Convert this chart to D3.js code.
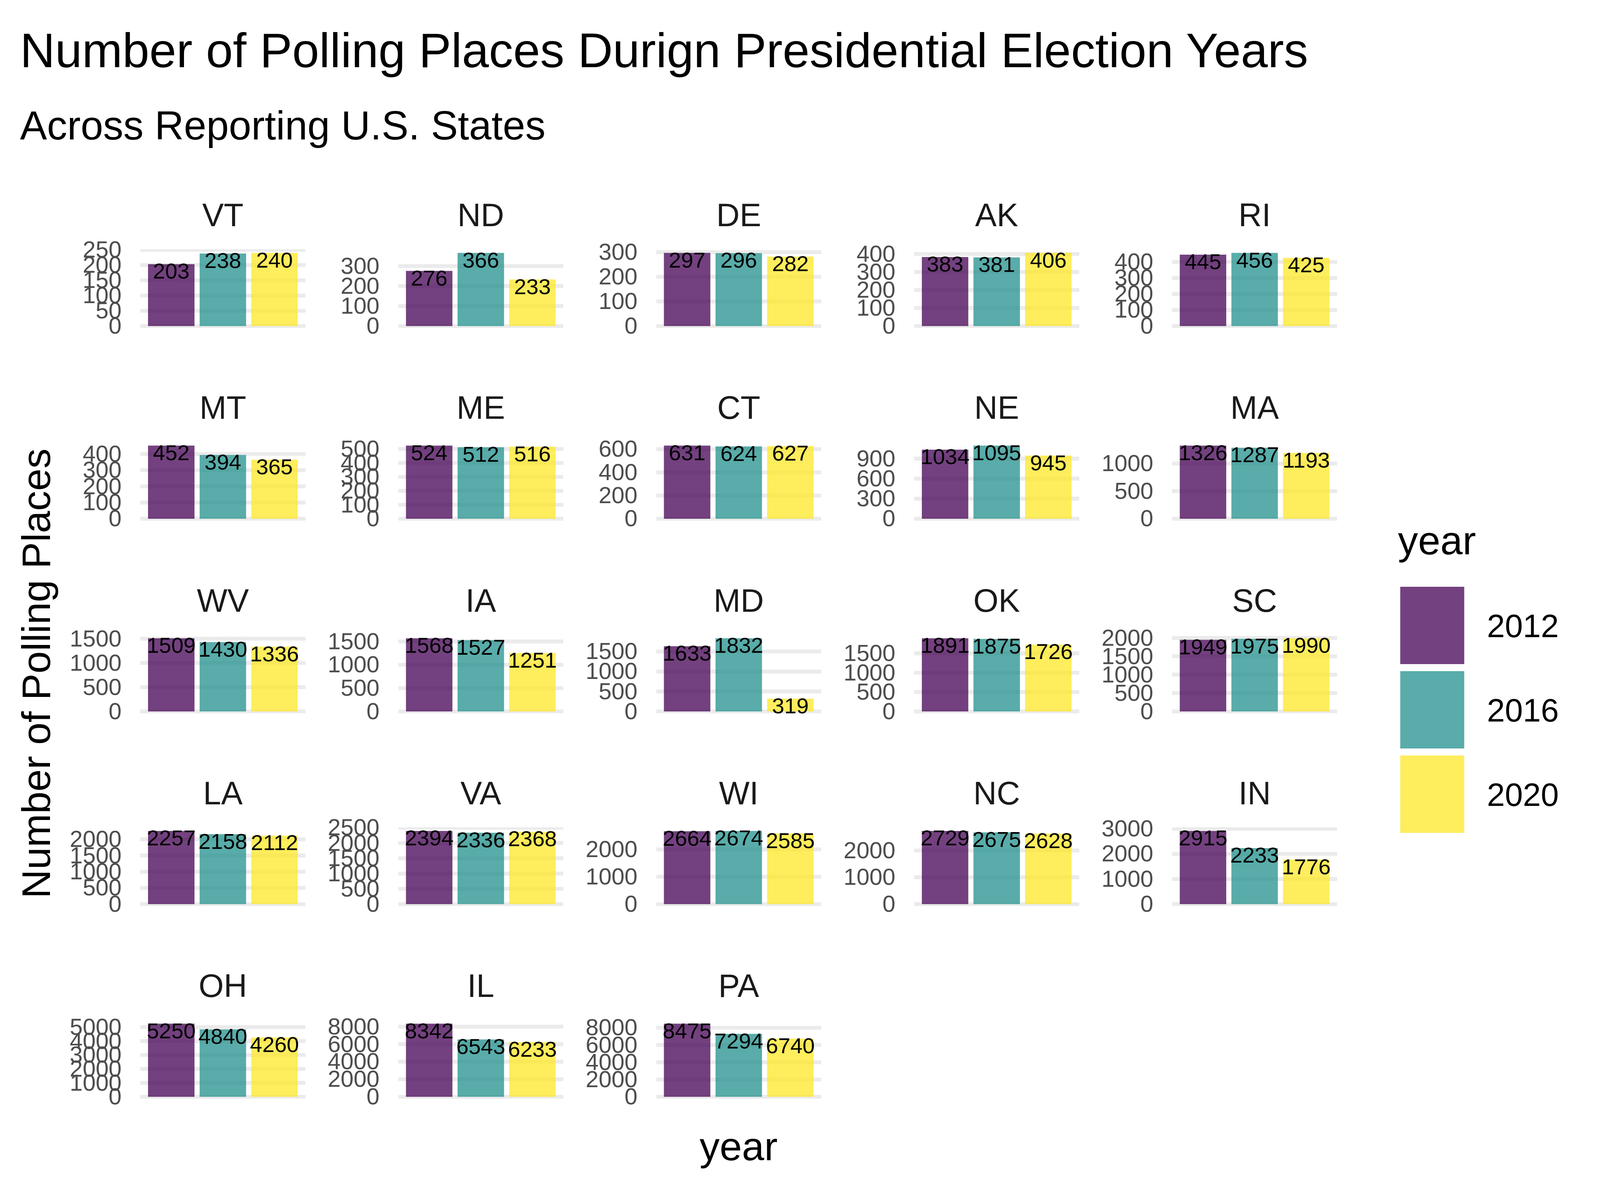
<!DOCTYPE html>
<html>
<head>
<meta charset="utf-8">
<title>Number of Polling Places</title>
<script src="https://cdn.jsdelivr.net/npm/d3@7"></script>
<style>
  html, body { margin: 0; padding: 0; background: #fff; overflow: hidden; }
  svg { display: block; }
  text { font-family: "Liberation Sans", Arial, sans-serif; }
</style>
</head>
<body>
<svg id="chart"></svg>
<script>
// --- Data ---
const years = ["2012", "2016", "2020"];
const states = ["VT", "ND", "DE", "AK", "RI", "MT", "ME", "CT", "NE", "MA", "WV", "IA", "MD", "OK", "SC", "LA", "VA", "WI", "NC", "IN", "OH", "IL", "PA"];
const places2012 = [203, 276, 297, 383, 445, 452, 524, 631, 1034, 1326, 1509, 1568, 1633, 1891, 1949, 2257, 2394, 2664, 2729, 2915, 5250, 8342, 8475];
const places2016 = [238, 366, 296, 381, 456, 394, 512, 624, 1095, 1287, 1430, 1527, 1832, 1875, 1975, 2158, 2336, 2674, 2675, 2233, 4840, 6543, 7294];
const places2020 = [240, 233, 282, 406, 425, 365, 516, 627, 945, 1193, 1336, 1251, 319, 1726, 1990, 2112, 2368, 2585, 2628, 1776, 4260, 6233, 6740];
const stateTicks = [
    [0, 50, 100, 150, 200, 250],
    [0, 100, 200, 300],
    [0, 100, 200, 300],
    [0, 100, 200, 300, 400],
    [0, 100, 200, 300, 400],
    [0, 100, 200, 300, 400],
    [0, 100, 200, 300, 400, 500],
    [0, 200, 400, 600],
    [0, 300, 600, 900],
    [0, 500, 1000],
    [0, 500, 1000, 1500],
    [0, 500, 1000, 1500],
    [0, 500, 1000, 1500],
    [0, 500, 1000, 1500],
    [0, 500, 1000, 1500, 2000],
    [0, 500, 1000, 1500, 2000],
    [0, 500, 1000, 1500, 2000, 2500],
    [0, 1000, 2000],
    [0, 1000, 2000],
    [0, 1000, 2000, 3000],
    [0, 1000, 2000, 3000, 4000, 5000],
    [0, 2000, 4000, 6000, 8000],
    [0, 2000, 4000, 6000, 8000]
];
const yearColors = ["#440154", "#21908C", "#FDE725"];

// --- Layout: measured at 4950x3059, fitted to the real window size ---
const W = window.innerWidth, H = window.innerHeight;
const sx = W / 4950, sy = H / 3059, s = Math.min(sx, sy);
const svg = d3.select("#chart").attr("width", W).attr("height", H);

const panelW = 511 * sx, panelH = 206 * sy;
const colPitch = 798 * sx, rowPitch = 493.25 * sy;
const firstLeft = 434 * sx, firstTop = 638 * sy;
const perRow = 5;

const color = d3.scaleOrdinal().domain(years).range(yearColors);
const x = d3.scaleBand().domain(years).range([0, panelW]).paddingInner(0.1).paddingOuter(0.15);

// --- Titles ---
svg.append("text").attr("x", 62 * sx).attr("y", 172 * sy)
    .attr("font-size", 150 * s).attr("fill", "#000")
    .text("Number of Polling Places Durign Presidential Election Years");
svg.append("text").attr("x", 62 * sx).attr("y", 357 * sy)
    .attr("font-size", 125 * s).attr("fill", "#000")
    .text("Across Reporting U.S. States");
svg.append("text").attr("transform", `translate(${155 * sx},${1724 * sy}) rotate(-90)`)
    .attr("text-anchor", "middle").attr("font-size", 124 * s).attr("fill", "#000")
    .text("Number of Polling Places");
svg.append("text").attr("x", 2285 * sx).attr("y", 2970 * sy)
    .attr("text-anchor", "middle").attr("font-size", 124 * s).attr("fill", "#000")
    .text("year");

// --- Panels ---
svg.append("defs").append("clipPath").attr("id", "panel-clip")
    .append("rect").attr("width", panelW).attr("height", panelH);

states.forEach((state, i) => {
    const values = [places2012[i], places2016[i], places2020[i]];
    const maxVal = d3.max(values);
    const y = d3.scaleLinear()
        .domain([-0.05 * maxVal, 1.05 * maxVal])
        .range([panelH, 0]);

    const g = svg.append("g")
        .attr("transform", `translate(${firstLeft + (i % perRow) * colPitch},${firstTop + Math.floor(i / perRow) * rowPitch})`);

    // grid
    g.append("g").attr("clip-path", "url(#panel-clip)")
        .selectAll("line").data(stateTicks[i]).join("line")
        .attr("x1", 0).attr("x2", panelW)
        .attr("y1", d => y(d)).attr("y2", d => y(d))
        .attr("stroke", "#ebebeb").attr("stroke-width", 12 * s);

    // bars
    g.selectAll("rect.bar").data(values).join("rect")
        .attr("class", "bar")
        .attr("x", (d, j) => x(years[j]))
        .attr("width", x.bandwidth())
        .attr("y", d => y(d))
        .attr("height", d => y(0) - y(d))
        .attr("fill", (d, j) => color(years[j]))
        .attr("fill-opacity", 0.75);

    // bar labels
    g.selectAll("text.value").data(values).join("text")
        .attr("class", "value")
        .attr("x", (d, j) => x(years[j]) + x.bandwidth() / 2)
        .attr("y", d => y(d) + 45 * s)
        .attr("text-anchor", "middle")
        .attr("font-size", 68 * s)
        .attr("fill", "#000")
        .text(d => d);

    // y axis
    const axis = g.append("g")
        .call(d3.axisLeft(y).tickValues(stateTicks[i]).tickFormat(d3.format("d")).tickSize(0).tickPadding(58 * sx));
    axis.select(".domain").remove();
    axis.selectAll("text")
        .style("font-family", '"Liberation Sans", Arial, sans-serif')
        .style("font-size", `${72 * s}px`)
        .attr("fill", "#4d4d4d");

    // strip label
    g.append("text")
        .attr("x", panelW / 2).attr("y", -59 * sy)
        .attr("text-anchor", "middle")
        .attr("font-size", 100 * s)
        .attr("fill", "#1a1a1a")
        .text(state);
});

// --- Legend ---
const legend = svg.append("g");
legend.append("text").attr("x", 4325 * sx).attr("y", 1419 * sy)
    .attr("font-size", 124 * s).attr("fill", "#000").text("year");
const keyY = d3.scaleBand().domain(years).range([1502 * sy, 2132 * sy]).paddingInner(18 / 216).paddingOuter(0);
legend.selectAll("rect").data(years).join("rect")
    .attr("x", 4332 * sx)
    .attr("y", d => keyY(d))
    .attr("width", 198 * sx)
    .attr("height", keyY.bandwidth())
    .attr("fill", d => color(d))
    .attr("fill-opacity", 0.75);
legend.selectAll("text.key").data(years).join("text")
    .attr("class", "key")
    .attr("x", 4600 * sx)
    .attr("y", d => keyY(d) + keyY.bandwidth() / 2 + 36 * s)
    .attr("font-size", 100 * s)
    .attr("fill", "#000")
    .text(d => d);
</script>
</body>
</html>
